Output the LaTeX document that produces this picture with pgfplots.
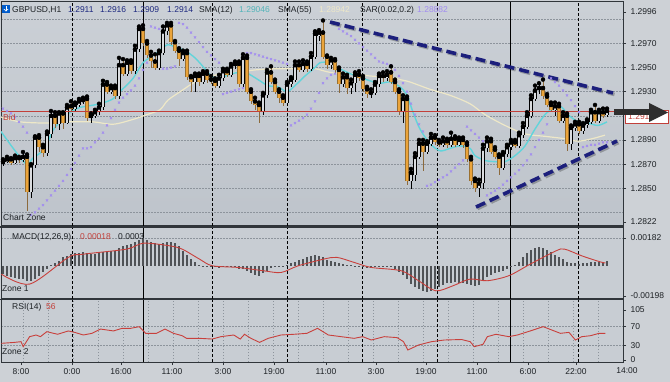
\documentclass[border=0pt]{standalone}
\usepackage{pgfplots}
\pgfplotsset{compat=1.18}
\usepackage{pgfplotstable}
\usepackage{fontspec}
\setmainfont{Liberation Sans}
\definecolor{outerbg}{HTML}{CDD1D6}
\definecolor{bgtop}{HTML}{CBD0D6}
\definecolor{bgbot}{HTML}{BEC4CB}
\definecolor{panelbg}{HTML}{C8CDD3}
\definecolor{frame}{HTML}{30353A}
\definecolor{gridcol}{HTML}{8D949C}
\definecolor{bearbody}{HTML}{EBA43A}
\definecolor{bearedge}{HTML}{9A7030}
\definecolor{wickbrown}{HTML}{8C6A3C}
\definecolor{bullin}{HTML}{DADCDF}
\definecolor{smacyan}{HTML}{62D4DA}
\definecolor{smacream}{HTML}{EEE8C8}
\definecolor{sarcol}{HTML}{A28CF0}
\definecolor{bidred}{HTML}{C2403A}
\definecolor{navyline}{HTML}{1C1F7C}
\definecolor{titlenavy}{HTML}{1F2A80}
\definecolor{histcol}{HTML}{505357}
\definecolor{sigred}{HTML}{C8403C}
\definecolor{labcol}{HTML}{1E2226}
\newcommand\lab{\fontsize{8.5bp}{10bp}\selectfont}

\pgfplotstableread{
k o h l c
0 1.2870 1.2874 1.2868 1.2872
1 1.2872 1.2876 1.2871 1.2874
2 1.2874 1.2875 1.2869 1.2871
3 1.2871 1.2877 1.2870 1.2875
4 1.2875 1.2876 1.2871 1.2873
5 1.2873 1.2880 1.2872 1.2876
6 1.2876 1.2878 1.2831 1.2847
7 1.2847 1.2870 1.2842 1.2869
8 1.2869 1.2893 1.2867 1.2892
9 1.2892 1.2894 1.2880 1.2884
10 1.2884 1.2886 1.2876 1.2879
11 1.2879 1.2897 1.2877 1.2895
12 1.2895 1.2914 1.2892 1.2910
13 1.2910 1.2913 1.2900 1.2903
14 1.2903 1.2913 1.2898 1.2912
15 1.2912 1.2913 1.2899 1.2904
16 1.2904 1.2919 1.2903 1.2917
17 1.2918 1.2922 1.2913 1.2916
18 1.2916 1.2921 1.2914 1.2919
19 1.2919 1.2924 1.2917 1.2922
20 1.2922 1.2925 1.2920 1.2923
21 1.2924 1.2926 1.2906 1.2908
22 1.2908 1.2912 1.2904 1.2910
23 1.2910 1.2915 1.2908 1.2913
24 1.2913 1.2920 1.2911 1.2917
25 1.2917 1.2939 1.2915 1.2936
26 1.2936 1.2938 1.2928 1.2930
27 1.2930 1.2935 1.2928 1.2933
28 1.2933 1.2935 1.2924 1.2926
29 1.2926 1.2958 1.2924 1.2952
30 1.2952 1.2957 1.2943 1.2945
31 1.2945 1.2956 1.2943 1.2954
32 1.2954 1.2956 1.2945 1.2947
33 1.2947 1.2968 1.2945 1.2965
34 1.2965 1.2984 1.2963 1.2982
35 1.2982 1.2985 1.2968 1.2970
36 1.2970 1.2972 1.2958 1.2960
37 1.2960 1.2963 1.2950 1.2955
38 1.2955 1.2961 1.2948 1.2950
39 1.2950 1.2964 1.2948 1.2962
40 1.2962 1.2984 1.2960 1.2980
41 1.2980 1.2987 1.2977 1.2985
42 1.2985 1.2987 1.2969 1.2971
43 1.2971 1.2972 1.2962 1.2964
44 1.2964 1.2966 1.2951 1.2957
45 1.2957 1.2964 1.2955 1.2962
46 1.2962 1.2964 1.2940 1.2942
47 1.2942 1.2943 1.2930 1.2938
48 1.2938 1.2945 1.2930 1.2943
49 1.2943 1.2945 1.2935 1.2938
50 1.2938 1.2947 1.2936 1.2945
51 1.2945 1.2947 1.2937 1.2940
52 1.2940 1.2943 1.2936 1.2939
53 1.2939 1.2941 1.2933 1.2935
54 1.2935 1.2944 1.2933 1.2941
55 1.2941 1.2949 1.2939 1.2947
56 1.2947 1.2949 1.2942 1.2944
57 1.2944 1.2953 1.2942 1.2951
58 1.2951 1.2955 1.2949 1.2953
59 1.2953 1.2955 1.2934 1.2936
60 1.2936 1.2961 1.2934 1.2958
61 1.2958 1.2960 1.2928 1.2930
62 1.2930 1.2932 1.2920 1.2922
63 1.2922 1.2925 1.2915 1.2919
64 1.2919 1.2921 1.2904 1.2913
65 1.2913 1.2929 1.2911 1.2927
66 1.2927 1.2948 1.2925 1.2946
67 1.2946 1.2951 1.2936 1.2938
68 1.2938 1.2940 1.2928 1.2930
69 1.2930 1.2932 1.2921 1.2925
70 1.2925 1.2927 1.2918 1.2921
71 1.2921 1.2938 1.2919 1.2936
72 1.2936 1.2942 1.2934 1.2940
73 1.2940 1.2955 1.2938 1.2952
74 1.2952 1.2955 1.2946 1.2948
75 1.2948 1.2956 1.2946 1.2953
76 1.2953 1.2955 1.2946 1.2949
77 1.2949 1.2962 1.2947 1.2959
78 1.2959 1.2980 1.2957 1.2978
79 1.2976 1.2981 1.2972 1.2979
80 1.2979 1.2989 1.2957 1.2959
81 1.2959 1.2960 1.2949 1.2952
82 1.2952 1.2958 1.2949 1.2956
83 1.2956 1.2957 1.2945 1.2948
84 1.2948 1.2950 1.2929 1.2936
85 1.2936 1.2945 1.2934 1.2942
86 1.2942 1.2944 1.2928 1.2933
87 1.2933 1.2940 1.2928 1.2937
88 1.2937 1.2946 1.2930 1.2944
89 1.2944 1.2947 1.2939 1.2941
90 1.2941 1.2943 1.2930 1.2932
91 1.2932 1.2934 1.2925 1.2928
92 1.2928 1.2932 1.2925 1.2929
93 1.2929 1.2938 1.2927 1.2936
94 1.2936 1.2945 1.2934 1.2943
95 1.2943 1.2946 1.2938 1.2941
96 1.2941 1.2947 1.2939 1.2944
97 1.2946 1.2951 1.2936 1.2938
98 1.2938 1.2940 1.2928 1.2930
99 1.2930 1.2932 1.2911 1.2914
100 1.2914 1.2927 1.2904 1.2924
101 1.2924 1.2926 1.2853 1.2856
102 1.2856 1.2866 1.2849 1.2863
103 1.2861 1.2879 1.2856 1.2876
104 1.2876 1.2890 1.2874 1.2887
105 1.2887 1.2890 1.2864 1.2880
106 1.2880 1.2889 1.2878 1.2887
107 1.2887 1.2895 1.2885 1.2892
108 1.2892 1.2894 1.2886 1.2888
109 1.2888 1.2890 1.2884 1.2886
110 1.2886 1.2892 1.2884 1.2889
111 1.2889 1.2891 1.2883 1.2886
112 1.2886 1.2896 1.2884 1.2891
113 1.2891 1.2893 1.2884 1.2886
114 1.2886 1.2892 1.2885 1.2890
115 1.2890 1.2892 1.2883 1.2886
116 1.2886 1.2888 1.2872 1.2874
117 1.2874 1.2876 1.2853 1.2856
118 1.2856 1.2858 1.2847 1.2850
119 1.2850 1.2857 1.2843 1.2854
120 1.2854 1.2886 1.2849 1.2883
121 1.2883 1.2892 1.2880 1.2889
122 1.2889 1.2891 1.2878 1.2880
123 1.2882 1.2884 1.2874 1.2876
124 1.2876 1.2878 1.2861 1.2867
125 1.2867 1.2880 1.2865 1.2878
126 1.2878 1.2886 1.2876 1.2884
127 1.2884 1.2890 1.2882 1.2888
128 1.2888 1.2890 1.2883 1.2885
129 1.2885 1.2896 1.2883 1.2894
130 1.2894 1.2904 1.2892 1.2901
131 1.2901 1.2913 1.2899 1.2910
132 1.2910 1.2927 1.2908 1.2924
133 1.2924 1.2935 1.2922 1.2931
134 1.2931 1.2937 1.2928 1.2933
135 1.2933 1.2940 1.2924 1.2926
136 1.2926 1.2928 1.2917 1.2919
137 1.2919 1.2921 1.2913 1.2915
138 1.2915 1.2921 1.2910 1.2918
139 1.2918 1.2920 1.2904 1.2906
140 1.2906 1.2913 1.2904 1.2910
141 1.2910 1.2912 1.2881 1.2887
142 1.2887 1.2902 1.2882 1.2900
143 1.2900 1.2905 1.2897 1.2903
144 1.2903 1.2905 1.2895 1.2897
145 1.2897 1.2904 1.2895 1.2902
146 1.2902 1.2907 1.2900 1.2905
147 1.2905 1.2915 1.2903 1.2913
148 1.2913 1.2919 1.2904 1.2906
149 1.2906 1.2915 1.2904 1.2913
150 1.2913 1.2916 1.2908 1.2910
151 1.2911 1.2916 1.2909 1.2914
}\ohlc

\pgfplotstableread{
k v
-0.5 1.2897
5.5 1.2871
7.5 1.2875
10.5 1.2883
12.5 1.2898
16 1.2911
19.25 1.2917
21 1.2918
24.25 1.2920
27.5 1.2924
29.25 1.2930
32.5 1.2941
35 1.2954
38 1.2961
39.75 1.2966
41.25 1.2969
43 1.2967
45.5 1.2964
48 1.2958
50.5 1.2949
52.5 1.2942
54.75 1.2942
57.25 1.2945
59.75 1.2946
61.25 1.2945
63.75 1.2940
66.25 1.2935
68.75 1.2934
71 1.2930
73 1.2935
75.5 1.2943
78 1.2950
79.25 1.2954
81.75 1.2954
84.25 1.2949
86.75 1.2945
89.25 1.2942
91.75 1.2939
94.25 1.2937
96.75 1.2938
99.25 1.2934
101 1.2927
102.5 1.2913
104.25 1.2899
106.75 1.2887
109.25 1.2881
111.75 1.2883
114.25 1.2885
116.75 1.2883
118 1.2877
120.5 1.2873
123 1.2872
125.5 1.2872
128 1.2877
130.5 1.2885
133 1.2899
135.5 1.2911
138 1.2917
139.75 1.2917
141.25 1.2911
143.75 1.2905
146.25 1.2904
148.75 1.2902
151 1.2905
}\smatw

\pgfplotstableread{
k v
-0.5 1.2909
4.25 1.2905
11 1.2904
16 1.2905
22.5 1.2905
27.5 1.2903
32.5 1.2907
36 1.2911
39.25 1.2915
41.25 1.2923
44.75 1.2931
48 1.2938
51.25 1.2942
54.75 1.2945
58.75 1.2946
63 1.2948
68 1.2949
73 1.2949
78 1.2949
81.75 1.2946
86.75 1.2945
91.75 1.2943
96.75 1.2942
99.25 1.2940
101.75 1.2938
106.75 1.2932
111.75 1.2927
116.75 1.2920
120.5 1.2911
125.5 1.2902
130.5 1.2895
135.5 1.2893
140.5 1.2891
143.75 1.2889
147.25 1.2891
150.5 1.2894
}\smaff

\pgfplotstableread{
k v
0 1.2916
1 1.2914
2 1.2912
3 1.2909
4 1.2905
5 1.2901
6 1.2896
7 1.2828
8 1.2830
9 1.2833
10 1.2836
11 1.2840
12 1.2844
13 1.2848
14 1.2852
15 1.2856
16 1.2861
17 1.2866
18 1.2871
19 1.2877
20 1.2883
21 1.2883
22 1.2884
23 1.2888
24 1.2891
25 1.2896
26 1.2902
27 1.2908
28 1.2915
29 1.2921
30 1.2925
31 1.2928
32 1.2931
33 1.2935
34 1.2941
35 1.2948
36 1.2954
37 1.2984
38 1.2983
39 1.2982
40 1.2949
41 1.2949
42 1.2950
43 1.2951
44 1.2987
45 1.2986
46 1.2983
47 1.2979
48 1.2975
49 1.2971
50 1.2967
51 1.2963
52 1.2960
53 1.2957
54 1.2954
55 1.2928
56 1.2929
57 1.2930
58 1.2931
59 1.2932
60 1.2933
61 1.2962
62 1.2962
63 1.2961
64 1.2960
65 1.2959
66 1.2958
67 1.2957
68 1.2956
69 1.2955
70 1.2954
71 1.2953
72 1.2902
73 1.2904
74 1.2906
75 1.2908
76 1.2911
77 1.2916
78 1.2922
79 1.2929
80 1.2937
81 1.2941
82 1.2944
83 1.2945
84 1.2982
85 1.2980
86 1.2978
87 1.2976
88 1.2973
89 1.2970
90 1.2967
91 1.2964
92 1.2961
93 1.2958
94 1.2955
95 1.2954
96 1.2953
97 1.2952
98 1.2948
99 1.2943
100 1.2937
101 1.2930
102 1.2920
103 1.2911
104 1.2903
105 1.2897
106 1.2852
107 1.2853
108 1.2855
109 1.2857
110 1.2859
111 1.2861
112 1.2864
113 1.2867
114 1.2870
115 1.2873
116 1.2901
117 1.2898
118 1.2895
119 1.2892
120 1.2889
121 1.2844
122 1.2846
123 1.2848
124 1.2850
125 1.2853
126 1.2856
127 1.2859
128 1.2862
129 1.2865
130 1.2869
131 1.2873
132 1.2878
133 1.2884
134 1.2890
135 1.2896
136 1.2903
137 1.2941
138 1.2938
139 1.2935
140 1.2931
141 1.2927
142 1.2923
143 1.2918
144 1.2913
145 1.2884
146 1.2885
147 1.2886
148 1.2886
149 1.2887
150 1.2888
151 1.2888
}\sar

\pgfplotstableread{
k m
0 -0.00055
1 -0.00065
2 -0.00076
3 -0.00083
4 -0.00087
5 -0.00087
6 -0.00102
7 -0.00098
8 -0.00087
9 -0.00065
10 -0.00044
11 -0.00022
12 0.00002
13 0.00015
14 0.00033
15 0.00055
16 0.00065
17 0.00076
18 0.00081
19 0.00085
20 0.00087
21 0.00081
22 0.00076
23 0.00076
24 0.00081
25 0.00089
26 0.00094
27 0.00094
28 0.00098
29 0.00116
30 0.00129
31 0.00133
32 0.00142
33 0.00155
34 0.00168
35 0.00181
36 0.00168
37 0.00153
38 0.00146
39 0.00142
40 0.00146
41 0.00153
42 0.00159
43 0.00146
44 0.00129
45 0.00098
46 0.00072
47 0.00044
48 0.00022
49 0.00007
50 -0.00007
51 -0.00011
52 -0.00007
53 -0.00011
54 -0.00015
55 -0.00007
56 -0.00002
57 -0.00004
58 -0.00011
59 -0.00022
60 -0.00022
61 -0.00033
62 -0.00050
63 -0.00059
64 -0.00065
65 -0.00050
66 -0.00033
67 -0.00015
68 -0.00011
69 -0.00007
70 0.00001
71 0.00007
72 0.00015
73 0.00028
74 0.00037
75 0.00046
76 0.00055
77 0.00063
78 0.00072
79 0.00065
80 0.00055
81 0.00041
82 0.00033
83 0.00022
84 0.00015
85 0.00011
86 0.00007
87 0.00002
88 -0.00001
89 -0.00007
90 -0.00011
91 -0.00015
92 -0.00013
93 -0.00011
94 -0.00007
95 -0.00004
96 -0.00007
97 -0.00011
98 -0.00022
99 -0.00044
100 -0.00059
101 -0.00087
102 -0.00120
103 -0.00142
104 -0.00155
105 -0.00164
106 -0.00170
107 -0.00164
108 -0.00153
109 -0.00137
110 -0.00124
111 -0.00116
112 -0.00111
113 -0.00109
114 -0.00111
115 -0.00116
116 -0.00120
117 -0.00129
118 -0.00133
119 -0.00124
120 -0.00098
121 -0.00076
122 -0.00059
123 -0.00050
124 -0.00044
125 -0.00033
126 -0.00024
127 -0.00011
128 0.00007
129 0.00028
130 0.00055
131 0.00081
132 0.00102
133 0.00116
134 0.00120
135 0.00116
136 0.00102
137 0.00087
138 0.00072
139 0.00055
140 0.00044
141 0.00022
142 0.00015
143 0.00015
144 0.00011
145 0.00015
146 0.00017
147 0.00022
148 0.00022
149 0.00024
150 0.00027
151 0.00030
}\macd

\pgfplotstableread{
k s
-0.4 -0.00055
6.66 -0.00120
16.33 0.00055
20.09 0.00076
30.84 0.00109
35.13 0.00148
41.58 0.00131
44.80 0.00109
49.10 0.00044
52.32 0.00000
58.77 -0.00011
65.21 -0.00033
69.51 -0.00044
73.81 0.00000
80.25 0.00044
83.48 0.00055
87.78 0.00022
92.08 -0.00011
99.60 -0.00033
103.89 -0.00098
108.19 -0.00164
112.49 -0.00131
116.78 -0.00087
121.08 -0.00098
126.45 -0.00065
131.82 0.00011
138.27 0.00098
140.42 0.00109
144.71 0.00065
149.01 0.00028
150.62 0.00018
}\signal

\pgfplotstableread{
k r
-0.4 35
2.9 37
4.5 38.5
5.05 28
6.66 49
8.27 52.5
9.35 49
10.96 59.5
13.65 54
16.33 61
17.94 58
20.09 52.5
22.24 56
24.39 65
27.61 61
29.76 66.5
31.91 66.5
34.06 70
35.67 56
38.36 56
40.5 65
42.65 56
44.8 51
45.88 45.5
49.1 45.5
52.32 44
54.47 49
57.69 52.5
59.3 44
60.38 54
61.99 45.5
64.14 37
66.29 45.5
69.51 52.5
72.73 54
75.96 56
78.64 66.5
81.33 52.5
84.55 49
87.78 45.5
89.93 49
92.08 42
95.3 49
98.52 47
100.13 38.5
101.21 21
103.89 31.5
107.12 38.5
110.34 42
114.64 43
116.78 38.5
117.86 28
120.01 33
121.08 49
123.23 54
126.45 49
128.6 52.5
131.82 61
135.04 70
137.19 63
139.34 56
141.49 58
143.1 42
144.71 49
146.86 51
149.01 56
150.62 56
}\rsi

\pgfplotsset{
  panel/.style={
    scale only axis, anchor=south west, width=622bp,
    xmin=-0.5, xmax=155,
    axis line style={draw=frame, line width=1bp},
    xtick=\empty,
    minor xtick={5,11.25,...,148.75},
    grid=minor,
    minor grid style={gridcol, dash pattern=on 1.5bp off 1.5bp, line width=0.6bp},
    minor tick length=0pt,
    ytick pos=right, tick align=outside, major tick length=3bp,
    tick style={draw=frame, line width=0.6bp},
    every tick label/.append style={font=\lab, text=labcol},
    yticklabel style={anchor=west, xshift=1bp},
    scaled y ticks=false, scaled x ticks=false,
    extra x ticks={17.25,52.25,71,89.75,108.5,143.75},
    extra x tick labels={},
    extra x tick style={grid=major, major grid style={black, dash pattern=on 3bp off 2bp, line width=0.8bp}, major tick length=0pt},
  },
  candle/.style n args={3}{only marks, mark=none, restrict y to domain=1.2:1.4,
    error bars/.cd, y dir=minus, y explicit, error mark=none,
    error bar style={line width=#2, draw=#1, line cap=#3}},
}

\begin{document}
\begin{tikzpicture}
\fill[outerbg] (0,0) rectangle (670bp,382bp);
\fill[frame] (0,154bp) rectangle (624bp,156bp);
\fill[frame] (0,82bp) rectangle (624bp,83bp);

% ---------------- main price panel ----------------
\begin{axis}[panel, at={(1bp,156bp)}, height=224bp,
  ymin=1.28187, ymax=1.30043,
  axis background/.style={top color=bgtop, bottom color=bgbot},
  ytick={1.2822,1.2850,1.2870,1.2890,1.2930,1.2950,1.2970,1.2996},
  yticklabels={1.2822,1.2850,1.2870,1.2890,1.2930,1.2950,1.2970,1.2996},
  minor ytick={1.2830,1.2850,1.2870,1.2890,1.2910,1.2930,1.2950,1.2970,1.2990},
  clip=true]
\draw[black, line width=0.8bp] (axis cs:35,1.28187) -- (axis cs:35,1.30043);
\draw[black, line width=0.8bp] (axis cs:126.75,1.28187) -- (axis cs:126.75,1.30043);
% SMA 55 and SMA 12
\addplot[smacream, line width=1.2bp, smooth, tension=0.5] table[x=k,y=v] {\smaff};
\addplot[smacyan, line width=1.4bp, smooth, tension=0.5] table[x=k,y=v] {\smatw};
% parabolic SAR
\addplot[only marks, mark=x, mark size=1.5bp, sarcol, mark options={line width=0.7bp}] table[x=k,y=v] {\sar};
% candles: wicks
\addplot[candle={wickbrown}{0.7bp}{butt}] table[x=k, y expr={\thisrow{c}<\thisrow{o} ? \thisrow{h} : 0}, y error expr={\thisrow{h}-\thisrow{l}}] {\ohlc};
\addplot[candle={black}{0.7bp}{butt}] table[x=k, y expr={\thisrow{c}>=\thisrow{o} ? \thisrow{h} : 0}, y error expr={\thisrow{h}-\thisrow{l}}] {\ohlc};
% bearish bodies (edge + fill)
\addplot[candle={bearedge}{3.1bp}{butt}] table[x=k, y expr={\thisrow{c}<\thisrow{o} ? \thisrow{o} : 0}, y error expr={\thisrow{o}-\thisrow{c}}] {\ohlc};
\addplot[candle={bearbody}{1.9bp}{butt}] table[x=k, y expr={\thisrow{c}<\thisrow{o} ? \thisrow{o} : 0}, y error expr={\thisrow{o}-\thisrow{c}}] {\ohlc};
% bullish bodies (edge + fill)
\addplot[candle={black}{3.1bp}{butt}] table[x=k, y expr={\thisrow{c}>=\thisrow{o} ? \thisrow{c} : 0}, y error expr={\thisrow{c}-\thisrow{o}}] {\ohlc};
\addplot[candle={bullin}{1.7bp}{butt}] table[x=k, y expr={\thisrow{c}>=\thisrow{o} ? \thisrow{c} : 0}, y error expr={\thisrow{c}-\thisrow{o}}] {\ohlc};
% bid line
\addplot[bidred, line width=0.8bp] coordinates {(-0.5,1.2914) (155,1.2914)};
% trend lines (shadow + line)
\addplot[black, opacity=0.25, line width=3.6bp, dash pattern=on 10bp off 5bp, transform canvas={xshift=1.5bp, yshift=-1.5bp}] coordinates {(81.75,1.29877) (152.5,1.29289)};
\addplot[black, opacity=0.25, line width=3.6bp, dash pattern=on 10bp off 5bp, transform canvas={xshift=1.5bp, yshift=-1.5bp}] coordinates {(118.25,1.28344) (153.5,1.28891)};
\addplot[navyline, line width=3.6bp, dash pattern=on 10bp off 5bp] coordinates {(81.75,1.29877) (152.5,1.29289)};
\addplot[navyline, line width=3.6bp, dash pattern=on 10bp off 5bp] coordinates {(118.25,1.28344) (153.5,1.28891)};
\end{axis}

% ---------------- MACD panel ----------------
\begin{axis}[panel, at={(1bp,83bp)}, height=71bp,
  ymin=-0.0021766, ymax=0.0024752,
  axis background/.style={fill=panelbg},
  ytick={-0.00198,0.00182},
  yticklabels={-0.00198,0.00182},
  minor ytick={0.00182},
  clip=true]
\draw[black, line width=0.8bp] (axis cs:35,-0.0021766) -- (axis cs:35,0.0024752);
\draw[black, line width=0.8bp] (axis cs:126.75,-0.0021766) -- (axis cs:126.75,0.0024752);
\addplot[ycomb, histcol, line width=1.1bp] table[x=k,y=m] {\macd};
\addplot[sigred, line width=0.9bp, smooth, tension=0.5] table[x=k,y=s] {\signal};
\end{axis}

% ---------------- RSI panel ----------------
\begin{axis}[panel, at={(1bp,20bp)}, height=62bp,
  ymin=-4.2, ymax=126,
  axis background/.style={fill=panelbg},
  ytick={0,30,70,105},
  yticklabels={0,30,70,105},
  minor ytick={30,70},
  xtick={4.5,17.25,29.5,42.25,55,67.75,80.75,93.25,105.75,118.5,131.25,143.25},
  xticklabels={8:00,0:00,16:00,11:00,3:00,19:00,11:00,3:00,19:00,11:00,6:00,22:00},
  xtick pos=left,
  clip=true]
\draw[black, line width=0.8bp] (axis cs:35,-4.2) -- (axis cs:35,126);
\draw[black, line width=0.8bp] (axis cs:126.75,-4.2) -- (axis cs:126.75,126);
\addplot[sigred, line width=0.9bp] table[x=k,y=r] {\rsi};
\end{axis}

% ---------------- texts and decorations ----------------
\node[anchor=center, inner sep=0, font=\lab, text=labcol] at (627bp,11bp) {14:00};

% price box and arrow
\filldraw[fill=white, draw=bidred, line width=0.8bp] (625bp,259bp) rectangle (668bp,272bp);
\node[anchor=west, inner sep=0, font=\lab, text=bidred] at (628bp,265bp) {1.2914};
\fill[black!82] (614bp,267bp) rectangle (651bp,272.5bp);
\fill[black!82] (649bp,279bp) -- (668bp,269.5bp) -- (649bp,260bp) -- cycle;

% icon
\fill[blue!55!cyan!80!black] (2bp,369bp) rectangle (10bp,377bp);
\draw[white, line width=0.8bp, ->] (6bp,376bp) -- (6bp,370.5bp);

% title line
\begin{scope}[every node/.style={anchor=west, inner sep=0, font=\lab}]
\node[text=labcol] at (12bp,372bp) {GBPUSD,H1};
\node[text=titlenavy] at (68bp,372bp) {1.2911};
\node[text=titlenavy] at (100bp,372bp) {1.2916};
\node[text=titlenavy] at (133bp,372bp) {1.2909};
\node[text=titlenavy] at (167bp,372bp) {1.2914};
\node[text=labcol] at (199bp,372bp) {SMA(12)};
\node[text=smacyan!85!black] at (239bp,372bp) {1.29046};
\node[text=labcol] at (278bp,372bp) {SMA(55)};
\node[text=smacream] at (319bp,372bp) {1.28942};
\node[text=labcol] at (360bp,372bp) {SAR(0.02,0.2)};
\node[text=sarcol] at (417bp,372bp) {1.28882};
\node[text=bidred] at (3bp,265bp) {Bid};
\node[text=labcol] at (3bp,165bp) {Chart Zone};
\node[text=labcol] at (12bp,145bp) {MACD(12,26,9)};
\node[text=bidred] at (80bp,145bp) {0.00018};
\node[text=labcol] at (118bp,145bp) {0.0003};
\node[text=labcol] at (2bp,93bp) {Zone 1};
\node[text=labcol] at (12bp,75bp) {RSI(14)};
\node[text=bidred] at (46bp,75bp) {56};
\node[text=labcol] at (2bp,30bp) {Zone 2};
\end{scope}

\pgfresetboundingbox
\path[use as bounding box] (0,0) rectangle (670bp,382bp);
\end{tikzpicture}
\end{document}
